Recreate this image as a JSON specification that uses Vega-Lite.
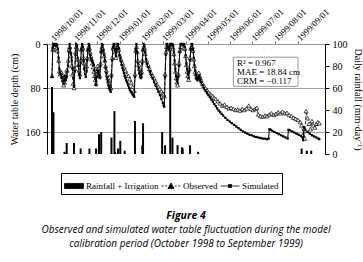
{
"$schema": "https://vega.github.io/schema/vega-lite/v6.json",
"width": 278, "height": 110,
"autosize": {"type": "none"},
"padding": {"left": 47, "top": 44, "right": 38, "bottom": 108},
"background": "white",
"config": {"view": {"stroke": null}, "font": "Liberation Serif",
  "axis": {"labelFont": "Liberation Serif", "titleFont": "Liberation Serif", "labelColor": "black", "titleColor": "black", "titleFontWeight": "normal", "labelOverlap": false, "labelSeparation": -100},
  "axisX": {"labelOverlap": false, "labelSeparation": -100},
  "axisTop": {"labelOverlap": false, "labelSeparation": -100},
  "axisTemporal": {"labelOverlap": false, "labelSeparation": -100}},
"title": {"text": "Figure 4", "subtitle": ["Observed and simulated water table fluctuation during the model", "calibration period (October 1998 to September 1999)"], "orient": "bottom", "anchor": "middle", "font": "Open Sans", "fontSize": 10.5, "fontStyle": "italic", "fontWeight": "bold", "subtitleFont": "Open Sans", "subtitleFontSize": 10, "subtitleFontStyle": "italic", "subtitleLineHeight": 14, "subtitlePadding": 4, "offset": 16, "color": "black", "subtitleColor": "black"},
"datasets": {
"rain": [
{"date":"1998-10-01","mm":61},{"date":"1998-10-03","mm":38},{"date":"1998-10-18","mm":2},{"date":"1998-10-21","mm":10},{"date":"1998-10-31","mm":10},{"date":"1998-11-09","mm":5},{"date":"1998-11-21","mm":5},{"date":"1998-11-30","mm":5},{"date":"1998-12-04","mm":18},{"date":"1998-12-07","mm":20},{"date":"1998-12-21","mm":15},{"date":"1998-12-25","mm":39},{"date":"1998-12-26","mm":2},{"date":"1998-12-30","mm":5},{"date":"1999-01-02","mm":12},{"date":"1999-01-08","mm":3},{"date":"1999-01-22","mm":30},{"date":"1999-02-01","mm":8},{"date":"1999-02-02","mm":28},{"date":"1999-02-28","mm":20},{"date":"1999-03-04","mm":8},{"date":"1999-03-11","mm":100},{"date":"1999-03-14","mm":15},{"date":"1999-03-21","mm":8},{"date":"1999-03-27","mm":6},{"date":"1999-03-28","mm":5},{"date":"1999-04-07","mm":8},{"date":"1999-04-18","mm":2},{"date":"1999-09-06","mm":5},{"date":"1999-09-13","mm":3},{"date":"1999-09-19","mm":3}
],
"sim": [
{"date":"1998-10-01","cm":60},{"date":"1998-10-02","cm":5},{"date":"1998-10-03","cm":0},{"date":"1998-10-04","cm":2},{"date":"1998-10-05","cm":0},{"date":"1998-10-06","cm":3},{"date":"1998-10-07","cm":0},{"date":"1998-10-08","cm":2},{"date":"1998-10-09","cm":8},{"date":"1998-10-10","cm":25},{"date":"1998-10-11","cm":45},{"date":"1998-10-12","cm":52},{"date":"1998-10-13","cm":55},{"date":"1998-10-14","cm":62},{"date":"1998-10-15","cm":60},{"date":"1998-10-16","cm":68},{"date":"1998-10-17","cm":72},{"date":"1998-10-18","cm":65},{"date":"1998-10-19","cm":58},{"date":"1998-10-20","cm":66},{"date":"1998-10-21","cm":60},{"date":"1998-10-22","cm":50},{"date":"1998-10-23","cm":40},{"date":"1998-10-24","cm":15},{"date":"1998-10-25","cm":0},{"date":"1998-10-26","cm":8},{"date":"1998-10-27","cm":17},{"date":"1998-10-28","cm":30},{"date":"1998-10-29","cm":45},{"date":"1998-10-30","cm":62},{"date":"1998-10-31","cm":78},
{"date":"1998-11-01","cm":50},{"date":"1998-11-02","cm":20},{"date":"1998-11-03","cm":0},{"date":"1998-11-04","cm":3},{"date":"1998-11-05","cm":25},{"date":"1998-11-06","cm":40},{"date":"1998-11-07","cm":55},{"date":"1998-11-08","cm":62},{"date":"1998-11-09","cm":35},{"date":"1998-11-10","cm":10},{"date":"1998-11-11","cm":0},{"date":"1998-11-12","cm":5},{"date":"1998-11-13","cm":30},{"date":"1998-11-14","cm":45},{"date":"1998-11-15","cm":55},{"date":"1998-11-16","cm":60},{"date":"1998-11-17","cm":50},{"date":"1998-11-18","cm":30},{"date":"1998-11-19","cm":10},{"date":"1998-11-20","cm":0},{"date":"1998-11-21","cm":3},{"date":"1998-11-22","cm":20},{"date":"1998-11-23","cm":26},{"date":"1998-11-24","cm":29},{"date":"1998-11-25","cm":32},{"date":"1998-11-26","cm":35},{"date":"1998-11-27","cm":38},{"date":"1998-11-28","cm":48},{"date":"1998-11-29","cm":62},{"date":"1998-11-30","cm":75},
{"date":"1998-12-01","cm":60},{"date":"1998-12-02","cm":47},{"date":"1998-12-03","cm":50},{"date":"1998-12-04","cm":58},{"date":"1998-12-05","cm":62},{"date":"1998-12-06","cm":40},{"date":"1998-12-07","cm":15},{"date":"1998-12-08","cm":0},{"date":"1998-12-09","cm":2},{"date":"1998-12-10","cm":12},{"date":"1998-12-11","cm":20},{"date":"1998-12-12","cm":30},{"date":"1998-12-13","cm":44},{"date":"1998-12-14","cm":53},{"date":"1998-12-15","cm":62},{"date":"1998-12-16","cm":68},{"date":"1998-12-17","cm":75},{"date":"1998-12-18","cm":80},{"date":"1998-12-19","cm":84},{"date":"1998-12-20","cm":87},{"date":"1998-12-21","cm":60},{"date":"1998-12-22","cm":30},{"date":"1998-12-23","cm":5},{"date":"1998-12-24","cm":0},{"date":"1998-12-25","cm":0},{"date":"1998-12-26","cm":10},{"date":"1998-12-27","cm":22},{"date":"1998-12-28","cm":10},{"date":"1998-12-29","cm":0},{"date":"1998-12-30","cm":0},{"date":"1998-12-31","cm":8},
{"date":"1999-01-01","cm":20},{"date":"1999-01-02","cm":26},{"date":"1999-01-03","cm":32},{"date":"1999-01-04","cm":38},{"date":"1999-01-05","cm":43},{"date":"1999-01-06","cm":48},{"date":"1999-01-07","cm":53},{"date":"1999-01-08","cm":58},{"date":"1999-01-09","cm":62},{"date":"1999-01-10","cm":66},{"date":"1999-01-11","cm":69},{"date":"1999-01-12","cm":72},{"date":"1999-01-13","cm":76},{"date":"1999-01-14","cm":80},{"date":"1999-01-15","cm":83},{"date":"1999-01-16","cm":86},{"date":"1999-01-17","cm":88},{"date":"1999-01-18","cm":90},{"date":"1999-01-19","cm":92},{"date":"1999-01-20","cm":94},{"date":"1999-01-21","cm":96},{"date":"1999-01-22","cm":60},{"date":"1999-01-23","cm":10},{"date":"1999-01-24","cm":0},{"date":"1999-01-25","cm":15},{"date":"1999-01-26","cm":35},{"date":"1999-01-27","cm":44},{"date":"1999-01-28","cm":52},{"date":"1999-01-29","cm":58},{"date":"1999-01-30","cm":62},{"date":"1999-01-31","cm":55},
{"date":"1999-02-01","cm":35},{"date":"1999-02-02","cm":10},{"date":"1999-02-03","cm":0},{"date":"1999-02-04","cm":2},{"date":"1999-02-05","cm":15},{"date":"1999-02-06","cm":28},{"date":"1999-02-07","cm":36},{"date":"1999-02-09","cm":42},{"date":"1999-02-11","cm":50},{"date":"1999-02-13","cm":56},{"date":"1999-02-15","cm":62},{"date":"1999-02-17","cm":69},{"date":"1999-02-19","cm":75},{"date":"1999-02-21","cm":81},{"date":"1999-02-23","cm":87},{"date":"1999-02-25","cm":93},{"date":"1999-02-27","cm":100},
{"date":"1999-03-01","cm":107},{"date":"1999-03-02","cm":112},{"date":"1999-03-03","cm":114},{"date":"1999-03-04","cm":60},{"date":"1999-03-05","cm":20},{"date":"1999-03-06","cm":0},{"date":"1999-03-07","cm":0},{"date":"1999-03-08","cm":5},{"date":"1999-03-09","cm":10},{"date":"1999-03-10","cm":5},{"date":"1999-03-11","cm":0},{"date":"1999-03-12","cm":0},{"date":"1999-03-13","cm":0},{"date":"1999-03-14","cm":0},{"date":"1999-03-15","cm":3},{"date":"1999-03-16","cm":15},{"date":"1999-03-17","cm":30},{"date":"1999-03-18","cm":45},{"date":"1999-03-19","cm":58},{"date":"1999-03-20","cm":65},{"date":"1999-03-21","cm":70},{"date":"1999-03-22","cm":60},{"date":"1999-03-23","cm":40},{"date":"1999-03-24","cm":15},{"date":"1999-03-25","cm":0},{"date":"1999-03-26","cm":0},{"date":"1999-03-27","cm":0},{"date":"1999-03-28","cm":0},{"date":"1999-03-29","cm":2},{"date":"1999-03-30","cm":0},{"date":"1999-03-31","cm":5},
{"date":"1999-04-01","cm":20},{"date":"1999-04-02","cm":35},{"date":"1999-04-03","cm":45},{"date":"1999-04-04","cm":55},{"date":"1999-04-05","cm":62},{"date":"1999-04-06","cm":50},{"date":"1999-04-07","cm":30},{"date":"1999-04-08","cm":10},{"date":"1999-04-09","cm":0},{"date":"1999-04-10","cm":0},{"date":"1999-04-11","cm":10},{"date":"1999-04-12","cm":25},{"date":"1999-04-13","cm":38},{"date":"1999-04-14","cm":48},{"date":"1999-04-15","cm":56},{"date":"1999-04-16","cm":62},{"date":"1999-04-17","cm":66},{"date":"1999-04-18","cm":60},{"date":"1999-04-19","cm":58},{"date":"1999-04-20","cm":62},{"date":"1999-04-21","cm":66},{"date":"1999-04-22","cm":70},{"date":"1999-04-24","cm":75},{"date":"1999-04-26","cm":80},{"date":"1999-04-28","cm":85},{"date":"1999-04-30","cm":89},
{"date":"1999-05-02","cm":93},{"date":"1999-05-04","cm":97},{"date":"1999-05-06","cm":101},{"date":"1999-05-08","cm":105},{"date":"1999-05-10","cm":109},{"date":"1999-05-12","cm":113},{"date":"1999-05-14","cm":117},{"date":"1999-05-16","cm":121},{"date":"1999-05-18","cm":124},{"date":"1999-05-20","cm":127},{"date":"1999-05-22","cm":130},{"date":"1999-05-25","cm":134},{"date":"1999-05-28","cm":138},{"date":"1999-05-31","cm":141},
{"date":"1999-06-03","cm":144},{"date":"1999-06-06","cm":147},{"date":"1999-06-09","cm":150},{"date":"1999-06-12","cm":153},{"date":"1999-06-15","cm":156},{"date":"1999-06-18","cm":159},{"date":"1999-06-21","cm":161},{"date":"1999-06-24","cm":163},{"date":"1999-06-27","cm":165},{"date":"1999-06-30","cm":166},
{"date":"1999-07-03","cm":168},{"date":"1999-07-06","cm":169},{"date":"1999-07-09","cm":170},{"date":"1999-07-12","cm":171},{"date":"1999-07-15","cm":172},{"date":"1999-07-18","cm":172},{"date":"1999-07-21","cm":173},{"date":"1999-07-23","cm":172},{"date":"1999-07-24","cm":155},{"date":"1999-07-26","cm":156},{"date":"1999-07-28","cm":158},{"date":"1999-07-31","cm":160},
{"date":"1999-08-03","cm":162},{"date":"1999-08-06","cm":164},{"date":"1999-08-09","cm":166},{"date":"1999-08-12","cm":168},{"date":"1999-08-15","cm":170},{"date":"1999-08-18","cm":172},{"date":"1999-08-19","cm":156},{"date":"1999-08-21","cm":157},{"date":"1999-08-24","cm":159},{"date":"1999-08-27","cm":161},{"date":"1999-08-30","cm":163},
{"date":"1999-09-02","cm":165},{"date":"1999-09-05","cm":167},{"date":"1999-09-07","cm":170},{"date":"1999-09-08","cm":175},{"date":"1999-09-09","cm":151},{"date":"1999-09-11","cm":156},{"date":"1999-09-14","cm":160},{"date":"1999-09-17","cm":163},{"date":"1999-09-20","cm":166},{"date":"1999-09-23","cm":168},{"date":"1999-09-26","cm":170},{"date":"1999-09-29","cm":172},{"date":"1999-09-30","cm":173}
],
"obs": [
{"date":"1998-10-01","cm":58},{"date":"1998-10-02","cm":10},{"date":"1998-10-03","cm":5},{"date":"1998-10-04","cm":8},{"date":"1998-10-05","cm":5},{"date":"1998-10-06","cm":10},{"date":"1998-10-07","cm":8},{"date":"1998-10-08","cm":12},{"date":"1998-10-10","cm":30},{"date":"1998-10-11","cm":50},{"date":"1998-10-12","cm":55},{"date":"1998-10-13","cm":50},{"date":"1998-10-14","cm":52},{"date":"1998-10-15","cm":58},{"date":"1998-10-16","cm":65},{"date":"1998-10-17","cm":75},{"date":"1998-10-18","cm":70},{"date":"1998-10-19","cm":60},{"date":"1998-10-20","cm":55},{"date":"1998-10-21","cm":48},{"date":"1998-10-23","cm":30},{"date":"1998-10-24","cm":10},{"date":"1998-10-25","cm":5},{"date":"1998-10-27","cm":22},{"date":"1998-10-28","cm":40},{"date":"1998-10-29","cm":55},{"date":"1998-10-30","cm":72},{"date":"1998-10-31","cm":80},
{"date":"1998-11-01","cm":45},{"date":"1998-11-02","cm":15},{"date":"1998-11-03","cm":5},{"date":"1998-11-04","cm":8},{"date":"1998-11-05","cm":28},{"date":"1998-11-06","cm":38},{"date":"1998-11-07","cm":48},{"date":"1998-11-08","cm":55},{"date":"1998-11-09","cm":30},{"date":"1998-11-10","cm":10},{"date":"1998-11-11","cm":5},{"date":"1998-11-12","cm":8},{"date":"1998-11-13","cm":25},{"date":"1998-11-14","cm":35},{"date":"1998-11-15","cm":42},{"date":"1998-11-16","cm":45},{"date":"1998-11-17","cm":40},{"date":"1998-11-18","cm":25},{"date":"1998-11-19","cm":10},{"date":"1998-11-20","cm":5},{"date":"1998-11-21","cm":8},{"date":"1998-11-22","cm":15},{"date":"1998-11-23","cm":22},{"date":"1998-11-24","cm":28},{"date":"1998-11-25","cm":35},{"date":"1998-11-26","cm":42},{"date":"1998-11-27","cm":50},{"date":"1998-11-28","cm":58},{"date":"1998-11-29","cm":65},{"date":"1998-11-30","cm":72},
{"date":"1998-12-01","cm":55},{"date":"1998-12-02","cm":40},{"date":"1998-12-03","cm":45},{"date":"1998-12-04","cm":55},{"date":"1998-12-05","cm":58},{"date":"1998-12-06","cm":35},{"date":"1998-12-07","cm":12},{"date":"1998-12-08","cm":5},{"date":"1998-12-09","cm":8},{"date":"1998-12-10","cm":15},{"date":"1998-12-11","cm":22},{"date":"1998-12-12","cm":30},{"date":"1998-12-13","cm":40},{"date":"1998-12-14","cm":48},{"date":"1998-12-15","cm":56},{"date":"1998-12-16","cm":62},{"date":"1998-12-17","cm":68},{"date":"1998-12-18","cm":73},{"date":"1998-12-19","cm":78},{"date":"1998-12-20","cm":80},{"date":"1998-12-21","cm":55},{"date":"1998-12-22","cm":25},{"date":"1998-12-23","cm":8},{"date":"1998-12-24","cm":5},{"date":"1998-12-25","cm":5},{"date":"1998-12-26","cm":15},{"date":"1998-12-27","cm":25},{"date":"1998-12-28","cm":12},{"date":"1998-12-29","cm":5},{"date":"1998-12-30","cm":5},{"date":"1998-12-31","cm":10},
{"date":"1999-01-01","cm":20},{"date":"1999-01-03","cm":28},{"date":"1999-01-05","cm":35},{"date":"1999-01-07","cm":42},{"date":"1999-01-09","cm":48},{"date":"1999-01-11","cm":55},{"date":"1999-01-13","cm":58},{"date":"1999-01-15","cm":64},{"date":"1999-01-17","cm":70},{"date":"1999-01-19","cm":78},{"date":"1999-01-21","cm":85},{"date":"1999-01-22","cm":55},{"date":"1999-01-23","cm":12},{"date":"1999-01-24","cm":5},{"date":"1999-01-25","cm":15},{"date":"1999-01-26","cm":30},{"date":"1999-01-27","cm":38},{"date":"1999-01-28","cm":45},{"date":"1999-01-29","cm":52},{"date":"1999-01-30","cm":58},{"date":"1999-01-31","cm":50},
{"date":"1999-02-01","cm":30},{"date":"1999-02-02","cm":10},{"date":"1999-02-03","cm":5},{"date":"1999-02-04","cm":8},{"date":"1999-02-05","cm":18},{"date":"1999-02-07","cm":30},{"date":"1999-02-09","cm":38},{"date":"1999-02-11","cm":45},{"date":"1999-02-13","cm":52},{"date":"1999-02-15","cm":58},{"date":"1999-02-17","cm":62},{"date":"1999-02-19","cm":68},{"date":"1999-02-21","cm":74},{"date":"1999-02-23","cm":78},{"date":"1999-02-25","cm":82},{"date":"1999-02-27","cm":86},
{"date":"1999-03-01","cm":90},{"date":"1999-03-02","cm":92},{"date":"1999-03-03","cm":95},{"date":"1999-03-04","cm":55},{"date":"1999-03-05","cm":15},{"date":"1999-03-06","cm":5},{"date":"1999-03-08","cm":10},{"date":"1999-03-10","cm":8},{"date":"1999-03-12","cm":5},{"date":"1999-03-14","cm":5},{"date":"1999-03-15","cm":8},{"date":"1999-03-16","cm":18},{"date":"1999-03-17","cm":35},{"date":"1999-03-18","cm":50},{"date":"1999-03-19","cm":62},{"date":"1999-03-20","cm":70},{"date":"1999-03-21","cm":75},{"date":"1999-03-22","cm":55},{"date":"1999-03-23","cm":35},{"date":"1999-03-24","cm":12},{"date":"1999-03-25","cm":5},{"date":"1999-03-27","cm":5},{"date":"1999-03-29","cm":8},{"date":"1999-03-31","cm":8},
{"date":"1999-04-01","cm":22},{"date":"1999-04-02","cm":38},{"date":"1999-04-03","cm":50},{"date":"1999-04-04","cm":58},{"date":"1999-04-05","cm":65},{"date":"1999-04-06","cm":45},{"date":"1999-04-07","cm":25},{"date":"1999-04-08","cm":8},{"date":"1999-04-09","cm":5},{"date":"1999-04-10","cm":5},{"date":"1999-04-11","cm":12},{"date":"1999-04-12","cm":28},{"date":"1999-04-13","cm":40},{"date":"1999-04-14","cm":50},{"date":"1999-04-15","cm":55},{"date":"1999-04-16","cm":60},{"date":"1999-04-17","cm":62},{"date":"1999-04-18","cm":55},{"date":"1999-04-19","cm":52},{"date":"1999-04-20","cm":58},{"date":"1999-04-21","cm":62},{"date":"1999-04-22","cm":66},{"date":"1999-04-24","cm":72},{"date":"1999-04-26","cm":76},{"date":"1999-04-28","cm":80},{"date":"1999-04-30","cm":84},
{"date":"1999-05-02","cm":88},{"date":"1999-05-04","cm":90},{"date":"1999-05-06","cm":93},{"date":"1999-05-08","cm":95},{"date":"1999-05-10","cm":98},{"date":"1999-05-12","cm":100},{"date":"1999-05-15","cm":104},{"date":"1999-05-18","cm":108},{"date":"1999-05-21","cm":112},{"date":"1999-05-24","cm":110},{"date":"1999-05-27","cm":114},{"date":"1999-05-30","cm":117},
{"date":"1999-06-02","cm":116},{"date":"1999-06-05","cm":118},{"date":"1999-06-08","cm":120},{"date":"1999-06-11","cm":119},{"date":"1999-06-14","cm":121},{"date":"1999-06-17","cm":118},{"date":"1999-06-20","cm":120},{"date":"1999-06-23","cm":117},{"date":"1999-06-26","cm":112},{"date":"1999-06-29","cm":118},
{"date":"1999-07-02","cm":120},{"date":"1999-07-05","cm":118},{"date":"1999-07-07","cm":116},{"date":"1999-07-09","cm":128},{"date":"1999-07-12","cm":131},{"date":"1999-07-15","cm":132},{"date":"1999-07-18","cm":130},{"date":"1999-07-21","cm":131},{"date":"1999-07-24","cm":128},{"date":"1999-07-27","cm":126},{"date":"1999-07-30","cm":129},
{"date":"1999-08-02","cm":127},{"date":"1999-08-05","cm":124},{"date":"1999-08-08","cm":126},{"date":"1999-08-11","cm":123},{"date":"1999-08-14","cm":126},{"date":"1999-08-17","cm":125},{"date":"1999-08-20","cm":129},{"date":"1999-08-23","cm":131},{"date":"1999-08-26","cm":134},{"date":"1999-08-29","cm":136},
{"date":"1999-09-01","cm":138},{"date":"1999-09-04","cm":142},{"date":"1999-09-06","cm":148},{"date":"1999-09-08","cm":165},{"date":"1999-09-10","cm":172},{"date":"1999-09-12","cm":122},{"date":"1999-09-14","cm":135},{"date":"1999-09-16","cm":145},{"date":"1999-09-18","cm":155},{"date":"1999-09-20","cm":140},{"date":"1999-09-22","cm":148},{"date":"1999-09-24","cm":152},{"date":"1999-09-26","cm":145},{"date":"1999-09-28","cm":142},{"date":"1999-09-30","cm":144}
]
},
"layer": [
{
"data": {"name": "rain"},
"mark": {"type": "bar", "size": 2},
"encoding": {
  "x": {"field": "date", "type": "temporal",
    "scale": {"type": "utc", "domain": [907200000000, 938736000000]},
    "axis": {"orient": "top", "title": null, "labelExpr": "utcFormat(datum.value, '%Y/%m/%d')", "labelAngle": -45, "labelAlign": "left", "labelBaseline": "middle", "labelFontSize": 9, "labelPadding": 2, "grid": false, "domainColor": "#999999", "tickColor": "#777777", "tickSize": 3, "labelOverlap": false, "labelSeparation": -100, "labelBound": false, "tickCount": {"interval": "month", "step": 1},
      "values": [907200000000, 909878400000, 912470400000, 915148800000, 917827200000, 920246400000, 922924800000, 925516800000, 928195200000, 930787200000, 933465600000, 936144000000]}},
  "y": {"field": "mm", "type": "quantitative", "scale": {"domain": [0, 100], "nice": false},
    "axis": {"orient": "right", "values": [0,20,40,60,80,100], "title": "Daily rainfall (mm·day⁻¹)", "grid": false, "domainColor": "black", "tickColor": "black", "tickSize": 4, "labelFontSize": 10, "titleFontSize": 10, "labelPadding": 3, "titlePadding": 5}},
  "color": {"datum": "Rainfall + Irrigation",
    "scale": {"domain": ["Rainfall + Irrigation", "Observed", "Simulated"], "range": ["black", "black", "black"]},
    "legend": {"title": null, "orient": "none", "legendX": 14, "legendY": 129, "direction": "horizontal", "strokeColor": "black", "padding": 3, "gridAlign": "none",
      "labelFont": "Liberation Serif", "labelFontSize": 9, "labelColor": "black", "symbolSize": 361, "symbolStrokeWidth": 1, "columnPadding": 0, "labelOffset": 2,
      "encode": {"symbols": {"update": {
        "shape": {"signal": "datum.value === 'Observed' ? 'M-1,0L-0.75,0M-0.6,0L-0.4,0M0.4,0L0.6,0M0.75,0L1,0M-0.32,0.27L0,-0.32L0.32,0.27Z' : datum.value === 'Simulated' ? 'M-1,0L1,0M-0.16,-0.16L0.16,-0.16L0.16,0.16L-0.16,0.16Z' : 'M-1,-0.27L1,-0.27L1,0.27L-1,0.27Z'"},
        "fill": {"signal": "datum.value === 'Observed' ? '#ffffff' : '#000000'"},
        "fillOpacity": {"value": 1},
        "stroke": {"value": "black"},
        "strokeWidth": {"value": 0.8},
        "opacity": {"value": 1}
      }}}}}
}
},
{
"layer": [
{
"data": {"name": "obs"},
"mark": {"type": "line", "strokeDash": [3, 2], "strokeWidth": 0.8},
"encoding": {
  "x": {"field": "date", "type": "temporal",
    "axis": {"orient": "top", "title": null, "labelExpr": "utcFormat(datum.value, '%Y/%m/%d')", "labelAngle": -45, "labelAlign": "left", "labelBaseline": "middle", "labelFontSize": 9, "labelPadding": 2, "grid": false, "domainColor": "#999999", "tickColor": "#777777", "tickSize": 3, "labelOverlap": false, "labelSeparation": -100, "labelBound": false, "tickCount": {"interval": "month", "step": 1},
      "values": [907200000000, 909878400000, 912470400000, 915148800000, 917827200000, 920246400000, 922924800000, 925516800000, 928195200000, 930787200000, 933465600000, 936144000000]}},
  "y": {"field": "cm", "type": "quantitative", "scale": {"domain": [0, 200], "reverse": true, "nice": false},
    "axis": {"orient": "left", "values": [0,40,80,120,160,200], "title": "Water table depth (cm)", "grid": true, "gridColor": "#a0a0a0", "domainColor": "black", "tickColor": "black", "tickSize": 4, "labelFontSize": 10, "titleFontSize": 10, "labelPadding": 3, "titlePadding": 6}},
  "color": {"datum": "Observed"}
}
},
{
"data": {"name": "obs"},
"mark": {"type": "point", "shape": "triangle-up", "filled": true, "fill": "white", "stroke": "black", "strokeWidth": 0.7, "size": 16, "opacity": 1},
"encoding": {
  "x": {"field": "date", "type": "temporal"},
  "y": {"field": "cm", "type": "quantitative"}
}
},
{
"data": {"name": "sim"},
"mark": {"type": "line", "strokeWidth": 1},
"encoding": {
  "x": {"field": "date", "type": "temporal"},
  "y": {"field": "cm", "type": "quantitative"},
  "color": {"datum": "Simulated"}
}
},
{
"data": {"name": "sim"},
"mark": {"type": "square", "size": 5, "color": "black", "opacity": 1},
"encoding": {
  "x": {"field": "date", "type": "temporal"},
  "y": {"field": "cm", "type": "quantitative"}
}
},
{
"data": {"values": [{}]},
"mark": {"type": "rect", "fill": "white", "stroke": "#999999", "strokeWidth": 1},
"encoding": {
  "x": {"datum": 928540800000, "type": "temporal"},
  "x2": {"datum": 936144000000},
  "y": {"datum": 24, "type": "quantitative"},
  "y2": {"datum": 77}
}
},
{
"data": {"values": [{}]},
"mark": {"type": "text", "align": "left", "baseline": "top", "font": "Liberation Serif", "fontSize": 9, "lineHeight": 9, "color": "black"},
"encoding": {
  "x": {"datum": 928972800000, "type": "temporal"},
  "y": {"datum": 28, "type": "quantitative"},
  "text": {"value": ["R² = 0.967", "MAE = 18.84 cm", "CRM = −0.117"]}
}
}
]
}
],
"resolve": {"scale": {"y": "independent"}}
}
